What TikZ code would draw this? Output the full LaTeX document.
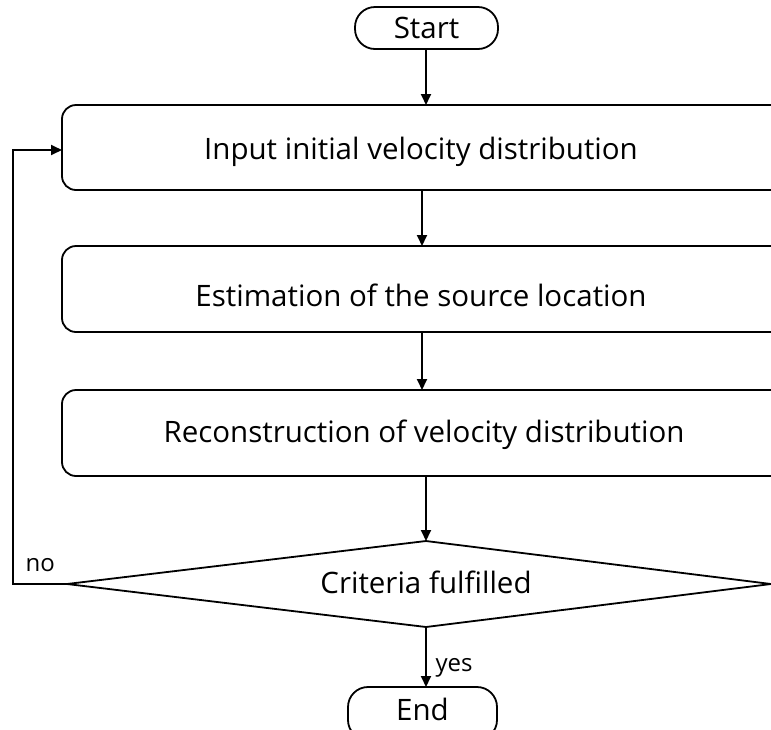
\documentclass[tikz,border=0pt]{standalone}
\usepackage{fontspec}
\setmainfont{Open Sans}
\usetikzlibrary{arrows.meta}
\begin{document}
\begin{tikzpicture}[x=1pt,y=-1pt,
  flow/.style={line width=1.8pt},
  arr/.style={flow,-{Triangle[length=11pt,width=10pt]}},
  lbl/.style={font=\fontsize{29.5}{33}\selectfont},
  small/.style={font=\fontsize{24}{28}\selectfont}]
\useasboundingbox (0,0) rectangle (771,729);
\clip (0,0) rectangle (771,729);
% terminals
\draw[flow,rounded corners=20pt] (355,7) rectangle (498,49);
\node[lbl] (start) at (426.5,28) {Start};
\coordinate (startb) at (426,49);
\draw[flow,rounded corners=20pt] (348,687) rectangle (497,740);
\node[lbl] (end) at (422.5,709) {End};
\coordinate (endt) at (426,687);
% process boxes (run past the right edge)
\draw[flow,rounded corners=14pt] (62,105) rectangle (800,190);
\node[lbl] (b1) at (421,152) {Input initial velocity distribution};
\draw[flow,rounded corners=14pt] (62,246) rectangle (800,332);
\node[lbl] (b2) at (421,295) {Estimation of the source location};
\draw[flow,rounded corners=14pt] (62,390) rectangle (800,476);
\node[lbl] (b3) at (424,435) {Reconstruction of velocity distribution};
% decision
\coordinate (dt) at (426,541);
\coordinate (dl) at (67,584);
\coordinate (dr) at (771,584);
\coordinate (db) at (426,627);
\draw[flow] (dt) -- (dr) -- (db) -- (dl) -- cycle;
\node[lbl] (crit) at (426,582) {Criteria fulfilled};
% connectors
\draw[arr] (startb) -- (426,105);
\draw[arr] (422,190) -- (422,246);
\draw[arr] (422,332) -- (422,390);
\draw[arr] (426,476) -- (dt);
\draw[arr] (db) -- (endt);
\draw[arr] (dl) -- (13,584) -- (13,150) -- (62,150);
\node[small,anchor=west] (no) at (22,565) {no};
\node[small,anchor=west] (yes) at (432,668) {yes};
\end{tikzpicture}
\end{document}
